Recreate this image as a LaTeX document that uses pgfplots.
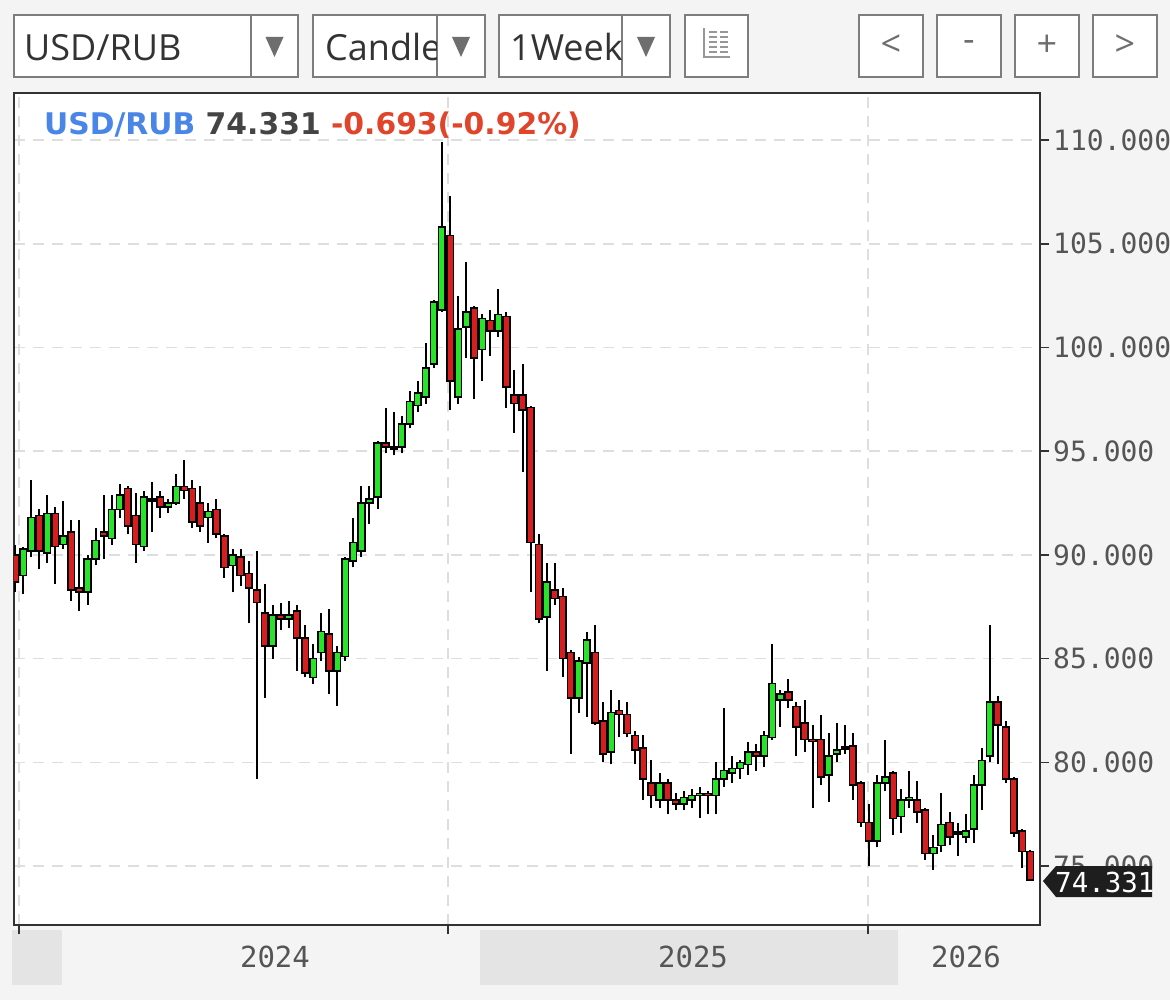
\documentclass[border=0pt]{standalone}
\usepackage{fontspec}
\setmainfont{DejaVu Sans}
\newfontfamily\uifont{Open Sans}
\newfontfamily\monofont{DejaVu Sans Mono}
\usepackage{pgfplots}
\usepackage{pgfplotstable}
\pgfplotsset{compat=1.18}

\definecolor{bg}{RGB}{244,244,244}
\definecolor{band}{RGB}{228,228,228}
\definecolor{boxgray}{RGB}{125,125,125}
\definecolor{arrowgray}{RGB}{110,110,110}
\definecolor{textdark}{RGB}{51,51,51}
\definecolor{axisgray}{RGB}{50,50,50}
\definecolor{gridgray}{RGB}{222,222,222}
\definecolor{labelgray}{RGB}{85,85,85}
\definecolor{upgreen}{RGB}{40,228,40}
\definecolor{downred}{RGB}{215,30,30}
\definecolor{legblue}{RGB}{74,134,232}
\definecolor{leggray}{RGB}{68,68,68}
\definecolor{legred}{RGB}{224,69,43}
\definecolor{tagblack}{RGB}{30,30,30}

% weekly candles: index, open, high, low, close
\pgfplotstableread{
i O H L C
0 90.0 90.5 88.2 88.7
1 89.0 90.4 88.1 90.3
2 90.2 93.6 89.9 91.8
3 91.9 92.2 89.3 90.2
4 90.1 92.9 89.6 92.0
5 92.0 92.3 88.6 90.4
6 90.5 92.6 90.3 90.9
7 91.1 91.7 87.8 88.3
8 88.4 91.7 87.3 88.2
9 88.2 90.0 87.6 89.8
10 89.8 91.3 89.5 90.7
11 91.1 92.9 89.8 90.9
12 90.8 92.9 90.5 92.2
13 92.2 93.4 91.8 92.9
14 93.2 93.3 91.0 91.4
15 91.9 93.0 89.6 90.5
16 90.4 93.1 90.2 92.8
17 92.7 93.5 91.1 92.6
18 92.8 93.1 91.8 92.3
19 92.3 92.7 92.0 92.5
20 92.5 93.9 92.4 93.3
21 93.3 94.6 92.7 93.1
22 93.2 93.6 91.3 91.6
23 92.5 93.3 91.1 91.4
24 91.8 92.5 90.6 92.1
25 92.2 92.7 90.8 91.0
26 90.9 91.0 88.9 89.4
27 89.5 90.3 88.2 90.0
28 89.9 90.3 88.5 89.0
29 89.1 89.7 86.7 88.4
30 88.3 90.2 79.2 87.7
31 87.2 88.6 83.1 85.6
32 85.6 87.6 85.0 87.1
33 87.1 87.7 86.4 86.9
34 86.9 87.8 86.5 87.1
35 87.3 87.6 84.4 86.0
36 86.0 86.6 84.1 84.3
37 84.1 85.7 83.8 85.0
38 85.3 87.2 84.9 86.3
39 86.2 87.4 83.3 84.4
40 84.4 85.6 82.7 85.3
41 85.1 89.9 84.9 89.8
42 89.7 91.8 89.4 90.6
43 90.2 93.3 89.9 92.5
44 92.5 93.3 91.5 92.7
45 92.8 95.5 92.2 95.4
46 95.4 97.1 94.9 95.2
47 95.2 96.9 94.8 95.1
48 95.2 96.7 94.9 96.3
49 96.3 97.9 96.1 97.4
50 97.2 98.4 96.9 97.8
51 97.6 100.2 97.3 99.0
52 99.2 102.3 99.0 102.2
53 101.8 109.9 101.7 105.8
54 105.4 107.3 97.0 98.4
55 97.6 102.5 97.3 100.9
56 101.0 104.1 99.5 101.7
57 101.9 102.0 97.5 99.5
58 99.9 101.6 98.4 101.4
59 101.3 101.8 99.6 100.8
60 100.8 102.8 100.5 101.6
61 101.5 101.7 97.1 98.1
62 97.7 98.9 95.9 97.3
63 97.7 99.2 94.0 97.0
64 97.1 97.2 88.2 90.6
65 90.5 91.0 86.7 86.9
66 87.0 89.6 84.4 88.7
67 88.3 89.6 87.6 87.9
68 88.0 88.4 84.1 85.0
69 85.3 85.4 80.4 83.1
70 83.1 85.1 82.4 84.9
71 84.8 86.3 82.2 85.9
72 85.3 86.6 81.8 81.9
73 82.0 82.9 80.0 80.4
74 80.5 83.5 79.9 82.4
75 82.5 83.0 81.2 82.3
76 82.3 82.9 81.2 81.4
77 81.3 81.5 79.9 80.6
78 80.7 81.3 78.2 79.2
79 79.0 80.1 77.8 78.4
80 78.2 79.5 77.8 79.0
81 79.0 79.2 77.5 78.2
82 78.2 78.5 77.7 78.0
83 78.0 78.6 77.7 78.3
84 78.2 78.7 77.8 78.4
85 78.4 78.8 77.3 78.5
86 78.5 78.6 77.5 78.4
87 78.4 80.0 77.5 79.2
88 79.2 82.6 78.8 79.6
89 79.5 80.3 79.0 79.7
90 79.7 80.1 79.2 80.0
91 79.9 81.0 79.4 80.5
92 80.5 80.9 79.6 80.3
93 80.3 81.5 79.8 81.3
94 81.2 85.7 81.1 83.8
95 83.0 83.5 81.7 83.3
96 83.4 84.0 82.6 83.0
97 82.7 82.9 80.3 81.7
98 81.9 83.0 80.5 81.1
99 81.1 81.8 77.8 81.0
100 81.1 82.3 78.9 79.3
101 79.4 81.4 78.1 80.3
102 80.4 81.9 80.0 80.6
103 80.75 81.8 80.4 80.65
104 80.8 81.4 78.2 78.9
105 79.0 79.1 76.9 77.1
106 77.1 78.0 75.0 76.2
107 76.2 79.4 75.9 79.0
108 79.0 81.1 78.6 79.3
109 79.5 79.6 76.5 77.3
110 77.4 78.7 76.6 78.2
111 78.2 79.6 77.8 78.3
112 78.2 79.1 77.1 77.6
113 77.7 77.8 75.3 75.6
114 75.6 76.5 74.8 75.9
115 76.0 78.5 75.7 77.0
116 77.1 77.6 76.0 76.4
117 76.55 77.1 75.5 76.65
118 76.4 77.5 76.1 76.7
119 76.8 79.4 76.1 78.9
120 78.9 80.7 77.7 80.1
121 80.3 86.6 80.0 82.9
122 82.9 83.2 79.9 81.8
123 81.7 82.0 79.0 79.2
124 79.2 79.3 76.4 76.6
125 76.7 76.8 74.9 75.7
126 75.7 75.8 74.3 74.331
}\candles
\pgfplotstablegetrowsof{\candles}
\pgfmathtruncatemacro{\lastrow}{\pgfplotsretval-1}

\begin{document}
\begin{tikzpicture}
\path[use as bounding box] (0pt,0pt) rectangle (1170pt,-1000pt);
\clip (0pt,0pt) rectangle (1170pt,-1000pt);
\fill[bg] (0pt,0pt) rectangle (1170pt,-1000pt);

\begin{scope}[x=1pt,y=-1pt]
  % toolbar
  \foreach \a/\b/\d in {14/298/251, 313/485/437, 499/670/622}{
    \draw[boxgray, line width=2.5pt, fill=white] (\a,15) rectangle (\b,77);
    \draw[boxgray, line width=2.5pt] (\d,15) -- (\d,77);
    \fill[arrowgray] ({(\d+\b)/2-9},37) -- ({(\d+\b)/2+9},37) -- ({(\d+\b)/2},57) -- cycle;
  }
  \node[anchor=base west, inner sep=0, text=textdark, font=\uifont\fontsize{36}{40}\selectfont] at (24,61) {USD/RUB};
  \begin{scope}
    \clip (314,16) rectangle (436,76);
    \node[anchor=base west, inner sep=0, text=textdark, font=\uifont\fontsize{36}{40}\selectfont] at (325,61) {Candle};
  \end{scope}
  \begin{scope}
    \clip (500,16) rectangle (621,76);
    \node[anchor=base west, inner sep=0, text=textdark, font=\uifont\fontsize{36}{40}\selectfont] at (510,61) {1Week};
  \end{scope}
  \draw[boxgray, line width=2.5pt, fill=white] (685,15) rectangle (748,77);
  \draw[boxgray!80, line width=1.5pt] (704,28) -- (704,57) -- (730,57);
  \foreach \yy in {32,37,42,47,52}{
    \draw[boxgray!80, line width=1.5pt] (709,\yy) -- (717,\yy) (720,\yy) -- (728,\yy);
  }
  \foreach \a/\s in {859/{<}, 937/{-}, 1015/{+}, 1093/{>}}{
    \draw[boxgray, line width=2.5pt, fill=white] (\a,15) rectangle ({\a+64},77);
    \node[text=arrowgray, font=\uifont\fontsize{36}{40}\selectfont] at ({\a+32},46) {\s};
  }
  % year bands under the time axis
  \fill[band] (12,930) rectangle (62,985);
  \fill[band] (480,930) rectangle (898,985);
\end{scope}

\begin{axis}[
  at={(14pt,-925pt)}, anchor=south west,
  scale only axis, width=1026pt, height=832pt,
  xmin=-0.124, xmax=127.23, ymin=72.16, ymax=112.27,
  axis background/.style={fill=white},
  axis line style={draw=axisgray, line width=2pt},
  xtick={0.5,53.75,105.9}, xticklabels={},
  ytick={75,80,...,110},
  xtick pos=bottom, ytick pos=right, yticklabel pos=right,
  tick align=outside, major tick length=9pt,
  tick style={draw=axisgray, line width=1.5pt},
  grid=major,
  major grid style={draw=gridgray, line width=1.5pt, dash pattern=on 11pt off 8pt},
  yticklabel style={font=\monofont\fontsize{28}{30}\selectfont, text=labelgray, inner sep=2pt, xshift=2pt},
  /pgf/number format/fixed, /pgf/number format/fixed zerofill,
  /pgf/number format/precision=3, /pgf/number format/assume math mode=true,
  wick/.style={draw=black, line width=2pt},
  body/.style={draw=black, line width=1.6pt},
]
\pgfplotsforeachungrouped \rowi in {0,...,\lastrow}{%
  \pgfplotstablegetelem{\rowi}{i}\of\candles \let\ci\pgfplotsretval
  \pgfplotstablegetelem{\rowi}{O}\of\candles \let\co\pgfplotsretval
  \pgfplotstablegetelem{\rowi}{H}\of\candles \let\chh\pgfplotsretval
  \pgfplotstablegetelem{\rowi}{L}\of\candles \let\cl\pgfplotsretval
  \pgfplotstablegetelem{\rowi}{C}\of\candles \let\cc\pgfplotsretval
  \pgfmathsetmacro\lo{min(\co,\cc)}%
  \pgfmathsetmacro\hi{max(\co,\cc)}%
  \pgfmathsetmacro\xl{\ci-0.41}%
  \pgfmathsetmacro\xr{\ci+0.41}%
  \pgfmathtruncatemacro\up{\cc>=\co ? 1 : 0}%
  \ifnum\up=1 \def\cf{upgreen}\else\def\cf{downred}\fi
  \edef\tmp{%
    \noexpand\addplot[wick] coordinates {(\ci,\cl) (\ci,\chh)};
    \noexpand\addplot[body, fill=\cf] coordinates {(\xl,\lo) (\xr,\lo) (\xr,\hi) (\xl,\hi)} -- cycle;
  }%
  \tmp
}
\end{axis}

\begin{scope}[x=1pt,y=-1pt]
  \node[anchor=base west, inner sep=0, font=\bfseries\fontsize{29.8}{34}\selectfont] at (44,135)
    {\textcolor{legblue}{USD/RUB} \textcolor{leggray}{74.331} \textcolor{legred}{-0.693(-0.92\%)}};
  \foreach \xx/\yr in {275/2024, 693/2025, 966/2026}{
    \node[text=labelgray, font=\monofont\fontsize{29}{32}\selectfont] at (\xx,957) {\yr};
  }
  % last price tag
  \fill[tagblack] (1043,881) -- (1056,866) -- (1152,866) -- (1152,897) -- (1056,897) -- cycle;
  \node[text=white, anchor=west, inner sep=0, font=\monofont\fontsize{27.5}{30}\selectfont] at (1055,882) {74.331};
\end{scope}
\end{tikzpicture}
\end{document}
